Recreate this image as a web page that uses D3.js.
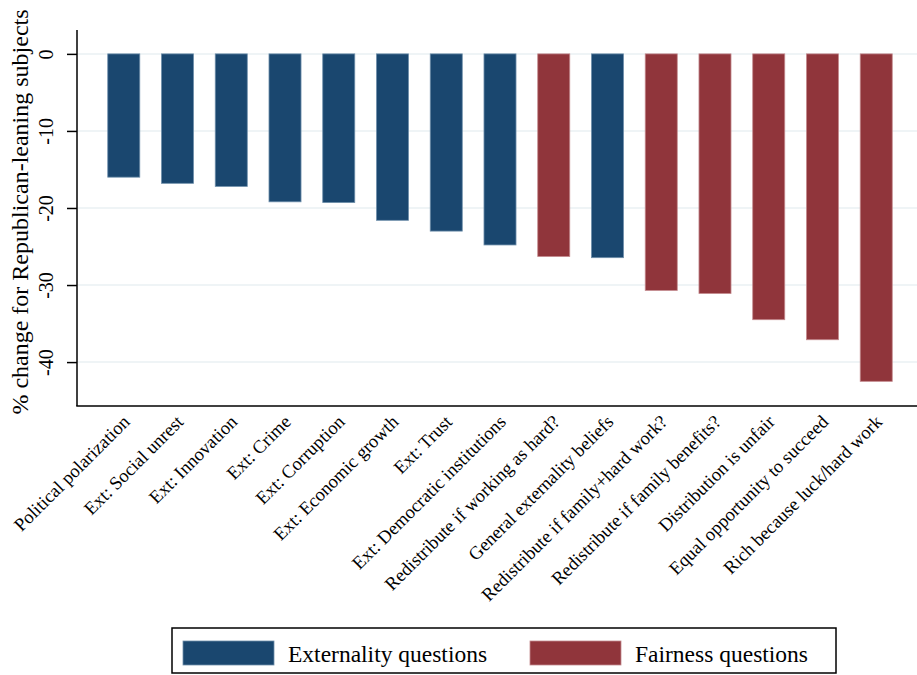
<!DOCTYPE html>
<html>
<head>
<meta charset="utf-8">
<script src="https://cdn.jsdelivr.net/npm/d3@7"></script>
<style>
	body { margin: 0; background: #fff; }
	svg { display: block; font-family: "Liberation Serif", "DejaVu Serif", serif; }
</style>
</head>
<body>
<svg id="chart" width="917" height="675"></svg>
<script>
// Data
const categories = [
	'Political polarization', 'Ext: Social unrest', 'Ext: Innovation', 'Ext: Crime',
	'Ext: Corruption', 'Ext: Economic growth', 'Ext: Trust', 'Ext: Democratic institutions',
	'Redistribute if working as hard?', 'General externality beliefs',
	'Redistribute if family+hard work?', 'Redistribute if family benefits?',
	'Distribution is unfair', 'Equal opportunity to succeed', 'Rich because luck/hard work'
];
const values = [-16.0, -16.8, -17.2, -19.2, -19.3, -21.6, -23.0, -24.8, -26.3, -26.45, -30.7, -31.1, -34.5, -37.1, -42.5];
const groups = ['ext', 'ext', 'ext', 'ext', 'ext', 'ext', 'ext', 'ext', 'fair', 'ext', 'fair', 'fair', 'fair', 'fair', 'fair'];
const yTicks = [0, -10, -20, -30, -40];
const legendLabels = ['Externality questions', 'Fairness questions'];

const colors = { ext: '#1a476f', fair: '#90353b' };
const edges = { ext: '#6f8fab', fair: '#c48a8e' };

let svg = d3.select('#chart');
let
	plotLeft = 77,
	plotRight = 917,
	plotTop = 30,
	plotBottom = 406
;

const y = d3.scaleLinear().domain([3.1, -45.7]).range([plotTop, plotBottom]);
const x = d3.scaleBand()
	.domain(categories)
	.range([97, 903])
	.paddingInner(0.404)
	.paddingOuter(0.2);

// gridlines
svg.append('g')
	.selectAll('line')
	.data(yTicks)
	.enter()
	.append('line')
	.attr('x1', plotLeft + 1)
	.attr('x2', plotRight)
	.attr('y1', (d) => y(d))
	.attr('y2', (d) => y(d))
	.attr('stroke', '#eaf0f3')
	.attr('stroke-width', 1.5);

// bars
svg.append('g')
	.selectAll('rect')
	.data(values)
	.enter()
	.append('rect')
	.attr('x', (d, i) => x(categories[i]))
	.attr('width', x.bandwidth())
	.attr('y', y(0))
	.attr('height', (d) => y(d) - y(0))
	.attr('fill', (d, i) => colors[groups[i]])
	.attr('stroke', (d, i) => edges[groups[i]])
	.attr('stroke-width', 0.8);

// y axis (plain hyphen for negatives, like the original)
let yAxis = svg.append('g')
	.attr('transform', `translate(${plotLeft},0)`)
	.call(d3.axisLeft(y).tickValues(yTicks).tickSize(10).tickPadding(5).tickFormat((d) => String(d)));
yAxis.select('.domain').attr('d', `M0,${plotTop}V${plotBottom}`).attr('stroke', '#000').attr('stroke-width', 1.5);
yAxis.selectAll('.tick line').attr('stroke', '#000').attr('stroke-width', 1.5);
yAxis.selectAll('.tick text')
	.attr('font-size', 20)
	.attr('font-family', '"Liberation Serif", serif')
	.attr('fill', '#000')
	.attr('transform', 'rotate(-90)')
	.attr('x', 0)
	.attr('y', -24)
	.attr('dy', '0')
	.attr('text-anchor', 'middle');

// x axis line
svg.append('line')
	.attr('x1', plotLeft - 0.75)
	.attr('x2', plotRight)
	.attr('y1', plotBottom)
	.attr('y2', plotBottom)
	.attr('stroke', '#000')
	.attr('stroke-width', 1.5);

// x labels, rotated 45 degrees
svg.append('g')
	.selectAll('text')
	.data(categories)
	.enter()
	.append('text')
	.attr('transform', (d) => `translate(${x(d) + x.bandwidth() / 2 + 7},${plotBottom + 17}) rotate(-45)`)
	.attr('text-anchor', 'end')
	.attr('font-size', 18.5)
	.attr('fill', '#000')
	.text((d) => d);

// y axis title
svg.append('text')
	.attr('transform', `translate(28,${(plotTop + plotBottom) / 2 - 6}) rotate(-90)`)
	.attr('text-anchor', 'middle')
	.attr('font-size', 24)
	.attr('fill', '#000')
	.text('% change for Republican-leaning subjects');

// legend
let legend = svg.append('g');
legend.append('rect')
	.attr('x', 172)
	.attr('y', 628)
	.attr('width', 664)
	.attr('height', 45)
	.attr('fill', '#fff')
	.attr('stroke', '#000')
	.attr('stroke-width', 1.5);
let items = legend.selectAll('g.item')
	.data(legendLabels)
	.enter()
	.append('g')
	.attr('class', 'item')
	.attr('transform', (d, i) => `translate(${i === 0 ? 183 : 530},641)`);
items.append('rect')
	.attr('width', 91)
	.attr('height', 24)
	.attr('fill', (d, i) => i === 0 ? colors.ext : colors.fair)
	.attr('stroke', (d, i) => i === 0 ? edges.ext : edges.fair)
	.attr('stroke-width', 0.8);
items.append('text')
	.attr('x', 105)
	.attr('y', 21)
	.attr('font-size', 23.5)
	.attr('fill', '#000')
	.text((d) => d);
</script>
</body>
</html>
